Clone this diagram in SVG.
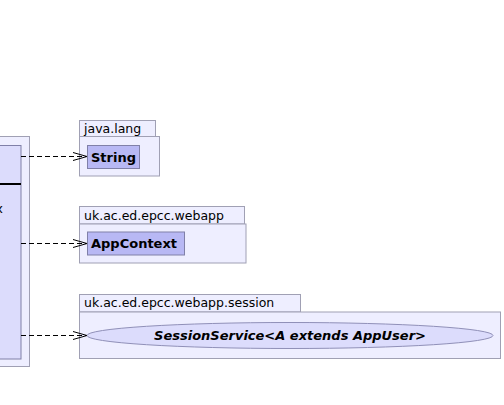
<svg xmlns="http://www.w3.org/2000/svg" width="504" height="405" viewBox="0 0 504 405">
<defs>
<style>
.pkg{fill:#EEEEFF;stroke:#A0A0B4;stroke-width:1}
.cls{fill:#B8B8F4;stroke:#8080A8;stroke-width:1}
.pname{font-family:"DejaVu Sans",sans-serif;font-size:12.5px;fill:#000}
.cname{font-family:"DejaVu Sans",sans-serif;font-size:13px;font-weight:bold;fill:#000}
.dep{stroke:#000;stroke-width:1;fill:none;stroke-dasharray:5,3}
.head{stroke:#000;stroke-width:1;fill:none}
</style>
</defs>
<rect width="504" height="405" fill="#FFFFFF"/>
<g id="left-package">
<rect class="pkg" x="-10" y="136.5" width="39.5" height="230"/>
<rect x="-10" y="145.5" width="31" height="213.5" fill="#DCDCFC" stroke="#8080A8"/>
<line x1="-10" y1="184" x2="21" y2="184" stroke="#000" stroke-width="2"/>
<text class="pname" x="3" y="213" text-anchor="end">x</text>
</g>
<g id="java.lang">
<rect class="pkg" x="79.5" y="120.5" width="76" height="16"/>
<rect class="pkg" x="79.5" y="136.5" width="80" height="39.5"/>
<text class="pname" x="84" y="132.5">java.lang</text>
<g id="String">
<rect class="cls" x="87.5" y="145.5" width="52" height="23"/>
<text class="cname" x="91" y="161.5">String</text>
</g>
</g>
<g id="uk.ac.ed.epcc.webapp">
<rect class="pkg" x="79.5" y="206.5" width="165" height="17.5"/>
<rect class="pkg" x="79.5" y="224" width="166.5" height="39"/>
<text class="pname" x="84" y="219.5">uk.ac.ed.epcc.webapp</text>
<g id="AppContext">
<rect class="cls" x="87.5" y="232" width="97" height="23"/>
<text class="cname" x="91" y="248">AppContext</text>
</g>
</g>
<g id="uk.ac.ed.epcc.webapp.session">
<rect class="pkg" x="79.5" y="294.5" width="221" height="17.5"/>
<rect class="pkg" x="79.5" y="312" width="421" height="46.5"/>
<text class="pname" x="84" y="306.5">uk.ac.ed.epcc.webapp.session</text>
<g id="SessionService">
<ellipse cx="290" cy="335.5" rx="203" ry="13" fill="#DCDCFC" stroke="#9090B8"/>
<text class="cname" x="290" y="340" text-anchor="middle" font-style="italic">SessionService&lt;A extends AppUser&gt;</text>
</g>
</g>
<g id="connectors">
<line class="dep" x1="21" y1="156.5" x2="86" y2="156.5"/>
<polyline class="head" points="73,152.5 87,156.5 73,160.5"/>
<line class="dep" x1="21" y1="243.5" x2="86" y2="243.5"/>
<polyline class="head" points="73,239.5 87,243.5 73,247.5"/>
<line class="dep" x1="21" y1="335.5" x2="86" y2="335.5"/>
<polyline class="head" points="73,331.5 87,335.5 73,339.5"/>
</g>
</svg>
